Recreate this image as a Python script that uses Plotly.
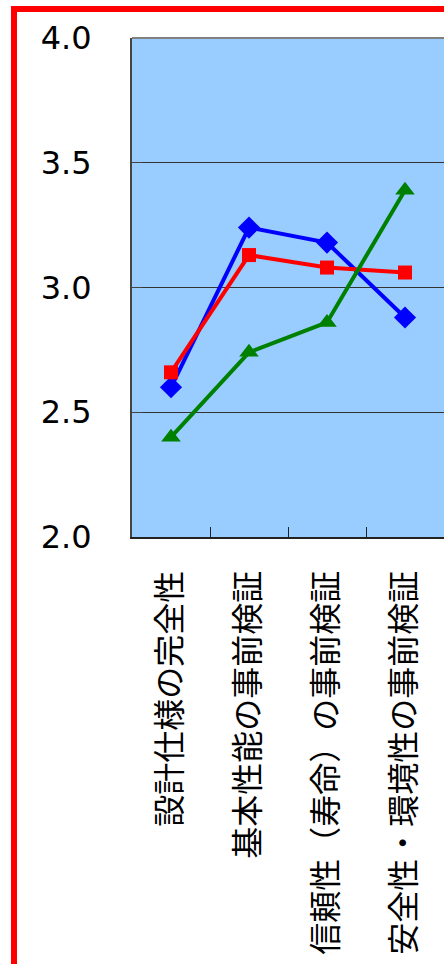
import plotly.graph_objects as go

# Evaluation items and average scores for three groups
categories = ["設計仕様の完全性", "基本性能の事前検証", "信頼性（寿命）の事前検証", "安全性・環境性の事前検証"]
series_blue = [2.60, 3.24, 3.18, 2.88]
series_red = [2.66, 3.13, 3.08, 3.06]
series_green = [2.40, 2.74, 2.86, 3.39]
y_ticks = [2.0, 2.5, 3.0, 3.5, 4.0]
y_tick_labels = ["2.0", "2.5", "3.0", "3.5", "4.0"]

W, H = 444, 964
L, R, T, B = 132, 0, 38, 427

fig = go.Figure()
styles = [
    (series_blue, "#0000FF", "diamond", 17),
    (series_red, "#FF0000", "square", 14),
    (series_green, "#008000", "triangle-up", 17),
]
for vals, col, sym, size in styles:
    fig.add_trace(go.Scatter(
        x=categories, y=vals, mode="lines+markers",
        line=dict(color=col, width=4),
        marker=dict(symbol=sym, size=size, color=col, line=dict(width=0)),
        showlegend=False, cliponaxis=False,
    ))

pw = W - L - R
ph = H - T - B
def px_x(p):
    return (p - L) / pw
def px_y(p):
    return (H - B - p) / ph

# red frame around the whole graphic
fig.add_shape(type="rect", xref="paper", yref="paper",
              x0=px_x(14), x1=px_x(470), y0=px_y(990), y1=px_y(9),
              line=dict(color="#FF0000", width=6), fillcolor="rgba(0,0,0,0)", layer="above")
# grey top edge of the plot area
fig.add_shape(type="line", xref="paper", yref="paper", x0=0, x1=1, y0=1, y1=1,
              line=dict(color="#808080", width=2), layer="above")

fig.update_layout(
    width=W, height=H,
    margin=dict(l=L, r=R, t=T, b=B, pad=0),
    paper_bgcolor="white", plot_bgcolor="#99CCFF",
    font=dict(family="DejaVu Sans", color="black"),
    xaxis=dict(
        type="category", range=[-0.5, 3.5], tickangle=-90,
        ticks="inside", tickson="boundaries", ticklen=10, tickwidth=1, tickcolor="#222",
        showline=True, linecolor="#222", linewidth=2, showgrid=False,
        tickfont=dict(family="Noto Sans CJK JP", size=32, color="black"),
        ticklabelstandoff=19,
    ),
    yaxis=dict(
        range=[2.0, 4.0], tickvals=y_ticks, ticktext=y_tick_labels,
        showgrid=True, gridcolor="#333", gridwidth=1,
        showline=True, linecolor="#444", linewidth=2, zeroline=False,
        ticks="inside", ticklen=10, tickcolor="#444",
        tickfont=dict(family="DejaVu Sans", size=32, color="black"),
        ticklabelstandoff=32,
    ),
)

fig.write_html("out.html")
